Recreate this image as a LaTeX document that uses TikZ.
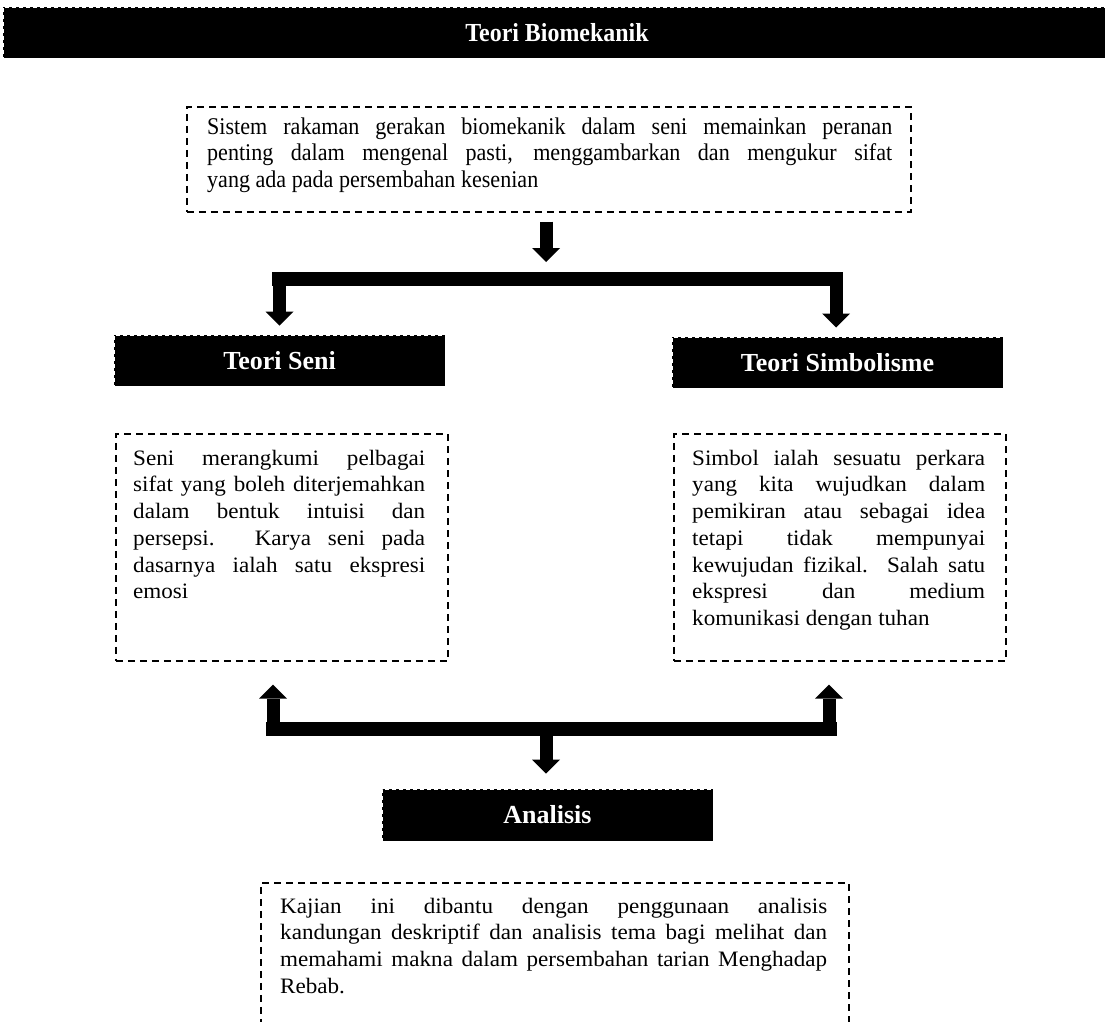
\documentclass[tikz,border=0pt]{standalone}
\usepackage{fontspec}
\setmainfont{Liberation Serif}
\newfontfamily\bodyf[FakeStretch=1.05]{Liberation Serif}
\newfontfamily\condf[FakeStretch=0.92]{Liberation Serif}
\usetikzlibrary{arrows.meta}
\newcommand\jl[2][292pt]{\makebox[#1][s]{\strut #2}\\}
\begin{document}
\begin{tikzpicture}[x=1pt,y=-1pt,
  tbox/.style={draw, dash pattern=on 7pt off 5pt, line width=1.5pt, inner sep=0pt, anchor=north west},
  head/.style={fill=black, draw=white, dash pattern=on 4pt off 3pt, line width=1pt, inner sep=0pt, text=white, font=\fontsize{26}{30}\selectfont\bfseries},
  body/.style={inner sep=0pt, anchor=north west, align=left, font=\bodyf\fontsize{22}{26.7}\selectfont},
  topbody/.style={inner sep=0pt, anchor=north west, align=left, font=\condf\fontsize{24}{26.5}\selectfont},
  blk/.style={line width=13pt, -{Triangle[width=28pt,length=14pt,line width=0pt]}},
  bar/.style={line width=14pt}
]
\useasboundingbox (0,0) rectangle (1105,1021);

% title bar
\node[head, minimum width=1108pt, minimum height=51pt, font=\condf\fontsize{26}{28}\selectfont\bfseries] (title) at (557,32.5) {Teori Biomekanik};

% top box
\node[tbox, minimum width=724pt, minimum height=105pt] (topbox) at (186,106) {};
\node[topbody] (toptext) at (207,115.5) {%
\jl[685pt]{Sistem rakaman gerakan biomekanik dalam seni memainkan peranan}
\jl[685pt]{penting dalam mengenal pasti, menggambarkan dan mengukur sifat}
\strut yang ada pada persembahan kesenian};

% headings
\node[head, minimum width=331pt, minimum height=51pt] (seni) at (279.5,360.5) {Teori Seni};
\node[head, minimum width=331pt, minimum height=51pt] (simb) at (837.5,362.5) {Teori Simbolisme};
\node[head, minimum width=331pt, minimum height=52pt] (anal) at (547.5,815) {Analisis};

% text boxes
\node[tbox, minimum width=332pt, minimum height=227pt] (lbox) at (115,433) {};
\node[body] (ltext) at (133,446.3) {%
\jl{Seni merangkumi pelbagai}
\jl{sifat yang boleh diterjemahkan}
\jl{dalam bentuk intuisi dan}
\jl{persepsi. Karya seni pada}
\jl{dasarnya ialah satu ekspresi}
\strut emosi};

\node[tbox, minimum width=332pt, minimum height=227pt] (rbox) at (673,433) {};
\node[body] (rtext) at (692,446.3) {%
\jl[293pt]{Simbol ialah sesuatu perkara}
\jl[293pt]{yang kita wujudkan dalam}
\jl[293pt]{pemikiran atau sebagai idea}
\jl[293pt]{tetapi tidak mempunyai}
\jl[293pt]{kewujudan fizikal. Salah satu}
\jl[293pt]{ekspresi dan medium}
\strut komunikasi dengan tuhan};

\node[tbox, minimum width=588pt, minimum height=200pt] (bbox) at (260,882) {};
\node[body] (btext) at (280,894.3) {%
\jl[547pt]{Kajian ini dibantu dengan penggunaan analisis}
\jl[547pt]{kandungan deskriptif dan analisis tema bagi melihat dan}
\jl[547pt]{memahami makna dalam persembahan tarian Menghadap}
\strut Rebab.};

% upper connectors
\coordinate (b1L) at (272,279);
\coordinate (b1R) at (843,279);
\coordinate (t1) at (546,262);
\draw[blk] ([yshift=-9pt]topbox.south -| t1) -- (t1);
\draw[bar] (b1L) -- (b1R);
\draw[blk] (seni.north |- b1L) -- ([yshift=9pt]seni.north);
\draw[blk] ([xshift=-1.5pt]simb.north |- b1R) -- ([xshift=-1.5pt,yshift=9pt]simb.north);

% lower connectors
\coordinate (b2L) at (266,729);
\coordinate (b2R) at (837,729);
\coordinate (u1) at (273,729);
\coordinate (u2) at (829,729);
\coordinate (d2) at (546,729);
\draw[bar] (b2L) -- (b2R);
\draw[blk, shorten >=23pt] (u1) -- (u1 |- lbox.south);
\draw[blk, shorten >=23pt] (u2) -- (u2 |- rbox.south);
\draw[blk] (d2) -- ([yshift=15pt]anal.north -| d2);
\end{tikzpicture}
\end{document}
